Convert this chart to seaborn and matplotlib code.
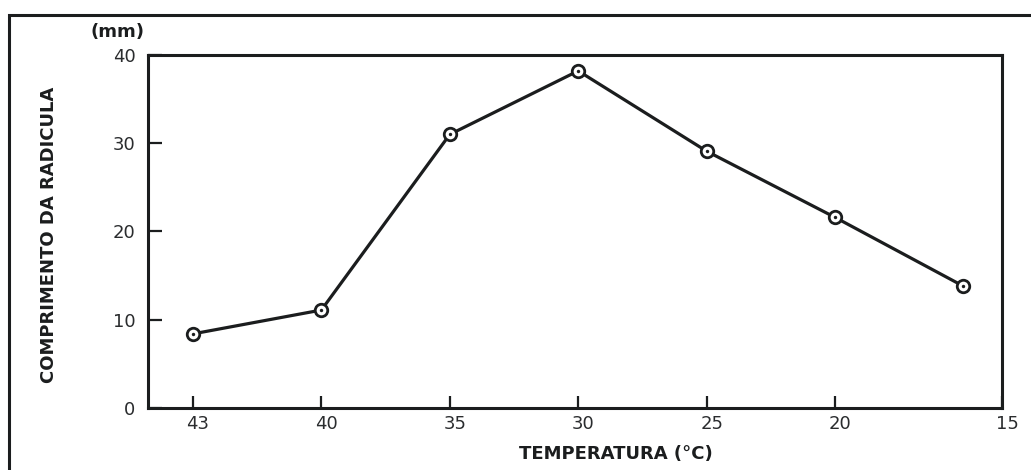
import numpy as np
import matplotlib
matplotlib.use("Agg")
import matplotlib.pyplot as plt
import matplotlib.transforms as mtransforms
from matplotlib.patches import Rectangle
import seaborn as sns
import pandas as pd

# ---- data ----
temperatures = ["43", "40", "35", "30", "25", "20", "15"]
radicle_length_mm = [8.4, 11.1, 31.0, 38.2, 29.1, 21.6, 13.8]
y_ticks = [0, 10, 20, 30, 40]
x_tick_labels = ["43", "40", "35", "30", "25", "20", "15"]

sns.set_theme(style="white")
plt.rcParams['font.family'] = ['DejaVu Sans']

ink = "#1b1d1e"
df = pd.DataFrame({"pos": np.arange(len(temperatures)),
                   "temp": temperatures,
                   "length": radicle_length_mm})

fig = plt.figure(figsize=(10.31, 4.70), dpi=100)
ax = fig.add_axes([148/1031, 1 - 408/470, (1002-148)/1031, (408-55)/470])

sns.lineplot(data=df, x="pos", y="length", ax=ax, color=ink, linewidth=2.3,
             marker="o", markersize=9, markerfacecolor="white",
             markeredgecolor=ink, markeredgewidth=2.0, zorder=3)
sns.scatterplot(data=df, x="pos", y="length", ax=ax, color=ink, s=6,
                linewidth=0, zorder=4)

x_left, x_right = -0.35, 6.30
ax.set_xlim(x_left, x_right)
ax.set_ylim(0, 40)

tick_pos = list(range(len(x_tick_labels) - 1)) + [x_right]
ax.set_xticks(tick_pos)
ax.set_xticklabels(x_tick_labels)
ax.set_yticks(y_ticks)
ax.set_yticklabels([str(v) for v in y_ticks])

ax.tick_params(axis="x", direction="in", length=9, width=1.6, color=ink,
               labelsize=13, labelcolor="#2a2c2e", pad=5, bottom=True)
ax.tick_params(axis="y", direction="in", length=10, width=1.6, color=ink,
               labelsize=13, labelcolor="#2a2c2e", pad=9, left=True)
offset = mtransforms.ScaledTranslation(5/100, 0, fig.dpi_scale_trans)
for lab in ax.get_xticklabels():
    lab.set_transform(lab.get_transform() + offset)

for s in ax.spines.values():
    s.set_visible(True)
    s.set_color(ink)
    s.set_linewidth(2.2)

ax.set_xlabel("TEMPERATURA (°C)", fontsize=13, fontweight="bold", color=ink)
ax.xaxis.set_label_coords((616-148)/854, -(445-408)/353)
ax.set_ylabel("COMPRIMENTO DA RADICULA", fontsize=13, fontweight="bold", color=ink)
ax.yaxis.set_label_coords((58-148)/854, 0.49)

fig.text(118/1031, 1 - 32/470, "(mm)", fontsize=13, fontweight="bold",
         color=ink, ha="center", va="center")

# outer frame (left and top edges visible, rest cropped)
frame = Rectangle((9/1031, -0.05), 1.2, (1 - 15/470) + 0.05,
                  transform=fig.transFigure, fill=False, edgecolor=ink,
                  linewidth=2.2, clip_on=False)
fig.patches.append(frame)

fig.savefig("out.png", dpi=100)
